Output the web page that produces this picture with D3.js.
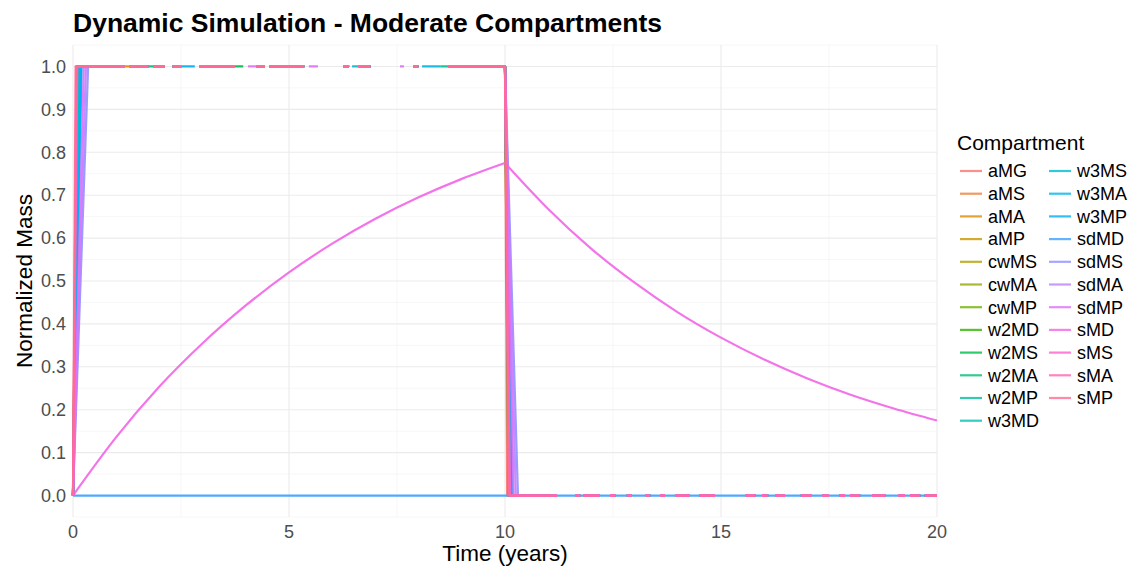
<!DOCTYPE html>
<html>
<head>
<meta charset="utf-8">
<script src="https://cdn.jsdelivr.net/npm/d3@7"></script>
<style>
  body { margin: 0; background: #fff; }
  text { font-family: "Liberation Sans", Arial, sans-serif; }
</style>
</head>
<body>
<div id="chart"></div>
<script>
// Compartments in legend / drawing order
var compartments = ['aMG', 'aMS', 'aMA', 'aMP', 'cwMS', 'cwMA', 'cwMP', 'w2MD', 'w2MS', 'w2MA', 'w2MP',
  'w3MD', 'w3MS', 'w3MA', 'w3MP', 'sdMD', 'sdMS', 'sdMA', 'sdMP', 'sMD', 'sMS', 'sMA', 'sMP']
// time (years) at which each step series reaches 1, and back at 0 after the switch at t=10
// null = not a step series
var riseEnd = [0.08, 0.1, 0.1, 0.12, 0.12, 0.15, 0.15, 0.1, 0.12, 0.15, 0.18,
  0.12, 0.15, 0.18, 0.2, null, 0.35, 0.3, 0.25, null, 0.1, 0.08, 0.06]
var fallEnd = [10.05, 10.08, 10.1, 10.1, 10.12, 10.12, 10.15, 10.08, 10.1, 10.12, 10.15,
  10.1, 10.12, 10.15, 10.18, null, 10.3, 10.25, 10.2, null, 10.12, 10.1, 10.08]
var switchTime = 10
var endTime = 20
// slow compartment (sMD)
var slowName = 'sMD'
var slowUpT = [0, 1, 2, 3, 4, 5, 6, 7, 8, 9, 10]
var slowUp = [0, 0.136, 0.254, 0.355, 0.443, 0.52, 0.587, 0.645, 0.695, 0.738, 0.775]
var slowDownT = [10, 11, 12, 13, 14, 15, 16, 17, 18, 19, 20]
var slowDown = [0.775, 0.668, 0.575, 0.496, 0.427, 0.368, 0.317, 0.273, 0.235, 0.203, 0.175]
// flat zero compartment
var zeroName = 'sdMD'
// intervals on the 1.0 plateau where every series is dropped (out of limits)
var plateauGaps = [[2.13, 2.31], [2.82, 2.92], [3.94, 4.05], [4.44, 4.54], [5.35, 5.46],
  [5.67, 6.25], [6.39, 6.46], [6.88, 7.57], [7.66, 7.87], [7.99, 8.08]]
// intervals on the plateau where only one series is left
var plateauPatches = [[1.2, 1.3, 'aMA'], [1.74, 1.86, 'w2MA'], [2.52, 2.82, 'w3MP'], [3.75, 3.94, 'w2MS'],
  [4.05, 4.25, 'sdMP'], [5.46, 5.67, 'sdMP'], [6.46, 6.6, 'w3MS'], [7.57, 7.66, 'sdMP'],
  [8.08, 8.5, 'w3MA'], [8.5, 8.68, 'w2MP']]
// intervals on the 0 floor (after the switch) where the step series are still drawn
var floorKept = [[11.62, 11.74], [11.81, 12.2], [12.43, 12.55], [12.82, 12.94], [13.24, 13.36],
  [13.59, 13.7], [13.94, 14.28], [14.51, 14.86], [15.56, 15.79], [15.95, 16.09], [16.25, 16.48],
  [16.85, 17.1], [17.35, 17.5], [17.75, 17.87], [17.99, 18.22], [18.5, 18.8], [19.1, 19.26],
  [19.38, 19.61], [19.72, 20]]
var floorFirstEnd = 11.2

var xTicks = [0, 5, 10, 15, 20]
var xMinor = [2.5, 7.5, 12.5, 17.5]
var yTicks = [0, 0.1, 0.2, 0.3, 0.4, 0.5, 0.6, 0.7, 0.8, 0.9, 1.0]
var yMinor = [-0.05, 0.05, 0.15, 0.25, 0.35, 0.45, 0.55, 0.65, 0.75, 0.85, 0.95, 1.05]

var W = 1134
var H = 571
var panel = { left: 73, right: 937, top: 45, bottom: 517 }

// ggplot-style hue palette (polar LUV -> sRGB)
function hclHex(h, c, l) {
  var Xn = 95.047, Yn = 100, Zn = 108.883
  var hr = h * Math.PI / 180
  var U = c * Math.cos(hr), V = c * Math.sin(hr)
  var Y = Yn * Math.pow((l + 16) / 116, 3)
  var t = Xn + 15 * Yn + 3 * Zn
  var un = 4 * Xn / t, vn = 9 * Yn / t
  var u = U / (13 * l) + un, v = V / (13 * l) + vn
  var X = 9 * Y * u / (4 * v)
  var Z = -X / 3 - 5 * Y + 3 * Y / v
  X /= 100; Y /= 100; Z /= 100
  var rgb = [
    3.240479 * X - 1.537150 * Y - 0.498535 * Z,
    -0.969256 * X + 1.875992 * Y + 0.041556 * Z,
    0.055648 * X - 0.204043 * Y + 1.057311 * Z
  ].map(function(ch) {
    ch = ch <= 0.0031308 ? 12.92 * ch : 1.055 * Math.pow(ch, 1 / 2.4) - 0.055
    return Math.round(Math.max(0, Math.min(1, ch)) * 255)
  })
  return d3.rgb(rgb[0], rgb[1], rgb[2]).formatHex()
}
var n = compartments.length
var colorScale = d3.scaleOrdinal()
  .domain(compartments)
  .range(compartments.map(function(d, i) { return hclHex(15 + i * 360 / n, 100, 65) }))

var svg = d3.select('#chart').append('svg')
  .attr('width', W).attr('height', H)

var x = d3.scaleLinear().domain([0, 20]).range([panel.left, panel.right])
var y = d3.scaleLinear().domain([-0.05, 1.05]).range([panel.bottom, panel.top])

// grid
var grid = svg.append('g')
grid.selectAll('.ymin').data(yMinor).enter().append('line')
  .attr('x1', panel.left).attr('x2', panel.right)
  .attr('y1', d => y(d)).attr('y2', d => y(d))
  .attr('stroke', '#F2F2F2').attr('stroke-width', 0.6)
grid.selectAll('.xmin').data(xMinor).enter().append('line')
  .attr('y1', panel.top).attr('y2', panel.bottom)
  .attr('x1', d => x(d)).attr('x2', d => x(d))
  .attr('stroke', '#F2F2F2').attr('stroke-width', 0.6)
grid.selectAll('.ymaj').data(yTicks).enter().append('line')
  .attr('x1', panel.left).attr('x2', panel.right)
  .attr('y1', d => y(d)).attr('y2', d => y(d))
  .attr('stroke', '#EBEBEB').attr('stroke-width', 1.1)
grid.selectAll('.xmaj').data(xTicks).enter().append('line')
  .attr('y1', panel.top).attr('y2', panel.bottom)
  .attr('x1', d => x(d)).attr('x2', d => x(d))
  .attr('stroke', '#EBEBEB').attr('stroke-width', 1.1)

// build the points for each series, with null where the line is broken
function seriesPoints(name, i) {
  if (name === zeroName) return [[0, 0], [endTime, 0]]
  if (name === slowName) return null
  var gaps = plateauGaps.slice()
  plateauPatches.forEach(function(p) {
    if (p[2] !== name) gaps.push([p[0], p[1]])
  })
  gaps.sort((a, b) => a[0] - b[0])
  var pts = [[0, 0], [riseEnd[i], 1]]
  gaps.forEach(function(g) {
    pts.push([g[0], 1], null, [g[1], 1])
  })
  pts.push([switchTime, 1], [fallEnd[i], 0], [floorFirstEnd, 0], null)
  floorKept.forEach(function(f) {
    pts.push([f[0], 0], [f[1], 0], null)
  })
  return pts
}

var line = d3.line()
  .defined(d => d !== null)
  .x(d => x(d[0]))
  .y(d => y(d[1]))
var smooth = d3.line()
  .x(d => x(d[0]))
  .y(d => y(d[1]))
  .curve(d3.curveMonotoneX)

var lines = svg.append('g').attr('fill', 'none')
  .attr('stroke-width', 2.2).attr('stroke-linejoin', 'round')
compartments.forEach(function(name, i) {
  var col = colorScale(name)
  if (name === slowName) {
    lines.append('path')
      .attr('d', smooth(slowUpT.map((t, j) => [t, slowUp[j]])))
      .attr('stroke', col).attr('opacity', 0.9)
    lines.append('path')
      .attr('d', smooth(slowDownT.map((t, j) => [t, slowDown[j]])))
      .attr('stroke', col).attr('opacity', 0.9)
    return
  }
  lines.append('path')
    .attr('d', line(seriesPoints(name, i)))
    .attr('stroke', col).attr('opacity', 0.9)
})

// axis labels
svg.append('g').selectAll('text').data(yTicks).enter().append('text')
  .attr('x', 66).attr('y', d => y(d)).attr('dy', '0.35em')
  .attr('text-anchor', 'end').attr('font-size', 18).attr('fill', '#4D4D4D')
  .text(d => d3.format('.1f')(d))
svg.append('g').selectAll('text').data(xTicks).enter().append('text')
  .attr('x', d => x(d)).attr('y', 538)
  .attr('text-anchor', 'middle').attr('font-size', 18).attr('fill', '#4D4D4D')
  .text(d => d)

svg.append('text')
  .attr('x', (panel.left + panel.right) / 2).attr('y', 561)
  .attr('text-anchor', 'middle').attr('font-size', 22.5).attr('fill', '#000')
  .text('Time (years)')
svg.append('text')
  .attr('transform', `translate(32,${(panel.top + panel.bottom) / 2}) rotate(-90)`)
  .attr('text-anchor', 'middle').attr('font-size', 22.5).attr('fill', '#000')
  .text('Normalized Mass')

svg.append('text')
  .attr('x', 73).attr('y', 32)
  .attr('font-size', 26.5).attr('font-weight', 'bold').attr('fill', '#000')
  .text('Dynamic Simulation - Moderate Compartments')

// legend
var legend = svg.append('g')
legend.append('text')
  .attr('x', 957).attr('y', 150)
  .attr('font-size', 21).attr('fill', '#000')
  .text('Compartment')
var perCol = 12
var rowH = 22.7
legend.selectAll('g.item').data(compartments).enter().append('g')
  .attr('transform', (d, i) => `translate(${i < perCol ? 960 : 1049},${171 + (i % perCol) * rowH})`)
  .each(function(d) {
    var g = d3.select(this)
    g.append('line')
      .attr('x1', 0).attr('x2', 22).attr('y1', 0).attr('y2', 0)
      .attr('stroke', colorScale(d)).attr('stroke-width', 2.2).attr('opacity', 0.8)
    g.append('text')
      .attr('x', 28).attr('y', 0).attr('dy', '0.35em')
      .attr('font-size', 18).attr('fill', '#000')
      .text(d)
  })
</script>
</body>
</html>
